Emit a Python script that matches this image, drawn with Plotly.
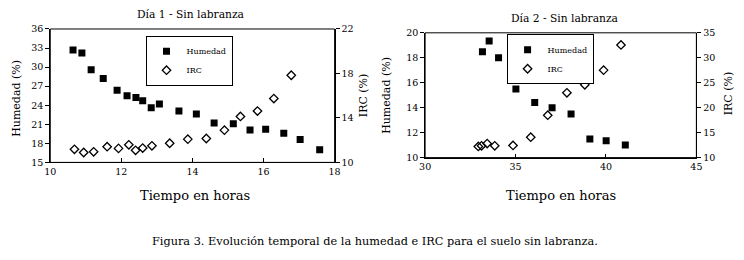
import plotly.graph_objects as go

# Día 1 - Sin labranza
d1_hum_t = [10.64, 10.89, 11.15, 11.49, 11.88, 12.16, 12.41, 12.60, 12.84, 13.07,
            13.62, 14.11, 14.61, 15.15, 15.62, 16.06, 16.57, 17.03, 17.58]
d1_hum = [32.7, 32.2, 29.6, 28.2, 26.35, 25.5, 25.2, 24.7, 23.6, 24.2,
          23.1, 22.6, 21.2, 21.1, 20.1, 20.2, 19.6, 18.6, 17.0]
d1_irc_t = [10.68, 10.94, 11.22, 11.60, 11.92, 12.21, 12.40, 12.60, 12.86,
            13.36, 13.87, 14.39, 14.90, 15.35, 15.83, 16.29, 16.78]
d1_irc = [11.18, 10.89, 10.95, 11.41, 11.26, 11.58, 11.09, 11.29, 11.49,
          11.72, 12.09, 12.15, 12.90, 14.13, 14.62, 15.74, 17.84]

# Día 2 - Sin labranza
d2_hum_t = [33.17, 33.54, 34.06, 35.02, 36.06, 37.02, 38.07, 39.11, 40.01, 41.07]
d2_hum = [18.49, 19.34, 18.0, 15.5, 14.42, 14.0, 13.5, 11.5, 11.36, 11.02]
d2_irc_t = [32.94, 33.12, 33.43, 33.85, 34.86, 35.84, 36.78, 37.84, 38.83, 39.87, 40.83]
d2_irc = [12.24, 12.37, 12.81, 12.37, 12.43, 14.09, 18.5, 22.98, 24.58, 27.52, 32.57]

# tick labels
d1_xticks = [10, 12, 14, 16, 18]
d1_yticks = [15, 18, 21, 24, 27, 30, 33, 36]
d1_y2ticks = [10, 14, 18, 22]
d2_xticks = [30, 35, 40, 45]
d2_yticks = [10, 12, 14, 16, 18, 20]
d2_y2ticks = [10, 15, 20, 25, 30, 35]

FONT = "DejaVu Serif"
W, H = 744, 260


def px(x):
    return x / W


def py(y):
    return 1 - y / H


sq = dict(symbol="square", size=7, color="black", line=dict(width=0))
dm = dict(symbol="diamond-open", size=6.5, color="black", line=dict(width=1.3))

fig = go.Figure()
fig.add_trace(go.Scatter(x=d1_hum_t, y=d1_hum, mode="markers", name="Humedad",
                         marker=sq, xaxis="x", yaxis="y", legend="legend"))
fig.add_trace(go.Scatter(x=d1_irc_t, y=d1_irc, mode="markers", name="IRC",
                         marker=dm, xaxis="x", yaxis="y2", legend="legend"))
fig.add_trace(go.Scatter(x=d2_hum_t, y=d2_hum, mode="markers", name="Humedad",
                         marker=sq, xaxis="x2", yaxis="y3", legend="legend2"))
fig.add_trace(go.Scatter(x=d2_irc_t, y=d2_irc, mode="markers", name="IRC",
                         marker=dm, xaxis="x2", yaxis="y4", legend="legend2"))

ax = dict(showgrid=False, zeroline=False, showline=True, linecolor="black",
          linewidth=1, ticks="outside", ticklen=4, tickcolor="black",
          tickfont=dict(family=FONT, size=9.5, color="black"))

lg = dict(bgcolor="white", bordercolor="black", borderwidth=1,
          font=dict(family=FONT, size=8, color="black"),
          tracegroupgap=0, itemwidth=30, xanchor="center", yanchor="top",
          xref="paper", yref="paper")

fig.update_layout(
    width=W, height=H, margin=dict(l=0, r=0, t=0, b=0),
    paper_bgcolor="white", plot_bgcolor="white",
    xaxis=dict(ax, domain=[px(45), px(334)], range=[10, 18],
               tickvals=d1_xticks, ticks="inside", anchor="y"),
    yaxis=dict(ax, domain=[py(163.3), py(24)], range=[15, 36],
               tickvals=d1_yticks, anchor="x"),
    yaxis2=dict(ax, overlaying="y", side="right", range=[10, 22],
                tickvals=d1_y2ticks, anchor="x"),
    xaxis2=dict(ax, domain=[px(426), px(701.7)], range=[30, 45],
                tickvals=d2_xticks, ticks="inside", anchor="y3"),
    yaxis3=dict(ax, domain=[py(158.3), py(28)], range=[10, 20],
                tickvals=d2_yticks, anchor="x2"),
    yaxis4=dict(ax, overlaying="y3", side="right", range=[10, 35],
                tickvals=d2_y2ticks, anchor="x2"),
    legend=dict(lg, x=px(186), y=py(31)),
    legend2=dict(lg, x=px(553), y=py(29.5)),
    showlegend=True,
)

# plot-area frames
for xr, yr in (("x domain", "y domain"), ("x2 domain", "y3 domain")):
    fig.add_shape(type="rect", xref=xr, yref=yr, x0=0, x1=1, y0=0, y1=1,
                  line=dict(color="black", width=1), layer="above")


def ann(text, x, y, size, angle=0):
    fig.add_annotation(text=text, x=px(x), y=py(y), xref="paper", yref="paper",
                       showarrow=False, textangle=angle,
                       font=dict(family=FONT, size=size, color="black"),
                       xanchor="center", yanchor="middle")


ann("Día 1 - Sin labranza", 188, 9, 10.7)
ann("Día 2 - Sin labranza", 568, 13, 10.7)
ann("Tiempo en horas", 192, 198, 13)
ann("Tiempo en horas", 564, 198, 13)
ann("Humedad (%)", 11, 96, 11, -90)
ann("IRC (%)", 363, 93, 11, -90)
ann("Humedad (%)", 386, 93, 11, -90)
ann("IRC (%)", 734, 91, 11, -90)
ann("Figura 3. Evolución temporal de la humedad e IRC para el suelo sin labranza.",
    375, 246, 11.3)

fig.write_html(
    "out.html",
    config={"displayModeBar": False},
    post_script="document.body.style.margin='0';document.body.style.overflow='hidden';",
)
